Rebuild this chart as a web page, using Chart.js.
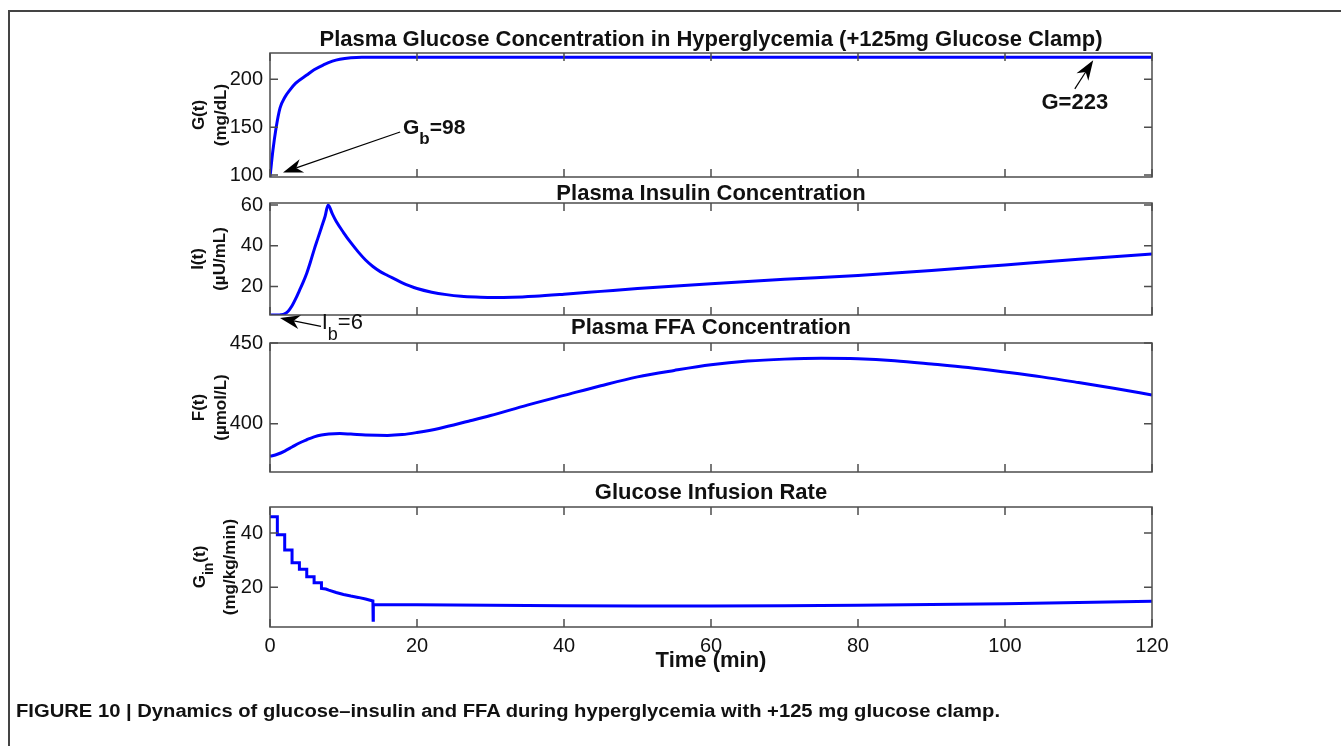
<!DOCTYPE html>
<html>
<head>
<meta charset="utf-8">
<title>Glucose clamp dynamics</title>
<script src="https://cdn.jsdelivr.net/npm/chart.js@4.4.1/dist/chart.umd.min.js"></script>
<style>
  html, body { margin: 0; padding: 0; background: #fff; }
  #page { position: relative; width: 1341px; height: 746px; overflow: hidden; background: #fff; }
  #page canvas { position: absolute; left: 0; top: 0; }
  #frame { position: absolute; left: 8px; top: 10px; right: -10px; bottom: -10px;
           border-left: 2px solid #444; border-top: 2px solid #444; }
  #caption { position: absolute; left: 16px; top: 701px; color: #111; white-space: nowrap;
             font: bold 18px 'Liberation Sans Narrow', 'Liberation Sans', Arial, sans-serif;
             transform-origin: left center; }
</style>
</head>
<body>
<div id="page">
  <div id="frame"></div>
  <canvas id="glucose" width="1341" height="746"></canvas>
  <canvas id="insulin" width="1341" height="746"></canvas>
  <canvas id="ffa" width="1341" height="746"></canvas>
  <canvas id="infusion" width="1341" height="746"></canvas>
  <div id="caption">FIGURE 10 | Dynamics of glucose–insulin and FFA during hyperglycemia with +125 mg glucose clamp.</div>
</div>

<script>
const FONT = '"Liberation Sans", Arial, sans-serif';

// time axis (min)
const timeTicks = [0, 20, 40, 60, 80, 100, 120];

// plasma glucose G(t), mg/dL
const glucoseTime = [0, 0.4, 0.82, 1.36, 2, 2.72, 3.5, 5, 6, 7.26, 8.5, 9.5, 11, 12.5, 13.6, 20, 40, 60, 80, 100, 120];
const glucoseVal  = [98, 126, 149, 170, 181, 189, 196, 204.5, 210, 215, 219, 221, 222.5, 223, 223, 223, 223, 223, 223, 223, 223];
const glucoseTicks = [100, 150, 200];

// plasma insulin I(t), uU/mL
const insulinTime = [0, 1, 1.5, 2, 2.5, 3, 3.5, 4, 4.5, 5, 5.5, 6, 6.5, 7, 7.5, 7.9, 8.5, 9, 10, 11,
                     12, 13, 14, 15, 16, 17, 18, 19, 20, 22, 24, 26, 28, 30, 33, 36, 40, 45, 50, 60,
                     70, 80, 90, 100, 110, 120];
const insulinVal  = [6, 6, 6.1, 6.6, 8, 10.5, 14, 18, 22, 26.5, 32, 38, 43.5, 49, 54.5, 60, 55.5, 52, 46.5, 41.5,
                     37, 33, 29.8, 27.3, 25.4, 23.6, 21.8, 20.3, 19, 17.2, 16, 15.2, 14.8, 14.6, 14.7, 15.2, 16.2, 17.6, 19, 21.4,
                     23.5, 25.4, 27.8, 30.6, 33.4, 36];
const insulinTicks = [20, 40, 60];

// plasma FFA F(t), umol/L
const ffaTime = [0, 1, 2, 3, 4, 5, 6, 7, 8, 9.5, 11, 13, 16, 18, 20, 23, 27, 30, 35, 40,
                 45, 50, 55, 60, 65, 70, 75, 80, 85, 90, 95, 100, 105, 110, 115, 120];
const ffaVal  = [379.7, 381, 383, 385.5, 388, 390, 391.8, 393, 393.6, 393.8, 393.5, 393, 392.7, 393.2, 394.5, 397, 401.5, 405, 411.5, 417.5,
                 423.5, 429, 433, 436.5, 438.8, 440, 440.5, 440.2, 439, 437, 434.8, 432, 429, 425.5, 421.8, 417.8];
const ffaTicks = [400, 450];

// glucose infusion rate Gin(t), mg/kg/min
const infusionTime = [0, 1, 1, 2, 2, 3, 3, 4, 4, 5, 5, 6, 6, 7, 7, 7.6, 8, 9, 10, 11,
                      12, 13, 14, 14.03, 14.06, 20, 30, 40, 50, 60, 70, 80, 90, 100, 110, 120];
const infusionVal  = [46, 46, 39.4, 39.4, 33.8, 33.8, 29.1, 29.1, 26.7, 26.7, 23.9, 23.9, 21.7, 21.7, 19.6, 19.4, 19.0, 18.1, 17.4, 16.8,
                      16.3, 15.7, 15.0, 7.9, 13.7, 13.6, 13.4, 13.2, 13.1, 13.1, 13.2, 13.4, 13.7, 14.0, 14.4, 14.9];
const infusionTicks = [20, 40];

// draws text made of pieces, some of them subscripts
function drawRich(ctx, parts, x, y, size, weight, align) {
  const subSize = Math.round(size * 0.8);
  const fontFor = p => `${weight} ${p.sub ? subSize : size}px ${FONT}`;
  let total = 0;
  parts.forEach(p => { ctx.font = fontFor(p); total += ctx.measureText(p.text).width; });
  let cx = align === 'center' ? x - total / 2 : x;
  ctx.textAlign = 'left';
  ctx.textBaseline = 'middle';
  parts.forEach(p => {
    ctx.font = fontFor(p);
    ctx.fillText(p.text, cx, p.sub ? y + size * 0.55 : y);
    cx += ctx.measureText(p.text).width;
  });
}

function drawArrow(ctx, x1, y1, x2, y2) {
  const ang = Math.atan2(y2 - y1, x2 - x1);
  const len = 20, half = 7;
  const c = Math.cos(ang), s = Math.sin(ang);
  const nx = x2 - c * len * 0.7, ny = y2 - s * len * 0.7;
  ctx.strokeStyle = '#000';
  ctx.lineWidth = 1.2;
  ctx.beginPath();
  ctx.moveTo(x1, y1);
  ctx.lineTo(nx, ny);
  ctx.stroke();
  const bx = x2 - c * len, by = y2 - s * len;
  ctx.beginPath();
  ctx.moveTo(x2, y2);
  ctx.lineTo(bx - s * half, by + c * half);
  ctx.lineTo(nx, ny);
  ctx.lineTo(bx + s * half, by - c * half);
  ctx.closePath();
  ctx.fillStyle = '#000';
  ctx.fill();
}

// box, inside ticks, panel title and annotations
function decorPlugin(cfg) {
  return {
    id: 'decor',
    afterDraw(chart) {
      const { ctx, chartArea: a, scales } = chart;
      const xs = scales.x, ys = scales.y;
      ctx.save();
      ctx.strokeStyle = '#4d4d4d';
      ctx.lineWidth = 1.5;
      ctx.strokeRect(a.left, a.top, a.right - a.left, a.bottom - a.top);
      ctx.beginPath();
      timeTicks.forEach(v => {
        const px = xs.getPixelForValue(v);
        ctx.moveTo(px, a.bottom); ctx.lineTo(px, a.bottom - 8);
        ctx.moveTo(px, a.top); ctx.lineTo(px, a.top + 8);
      });
      cfg.yTicks.forEach(v => {
        const py = ys.getPixelForValue(v);
        ctx.moveTo(a.left, py); ctx.lineTo(a.left + 8, py);
        ctx.moveTo(a.right, py); ctx.lineTo(a.right - 8, py);
      });
      ctx.stroke();

      ctx.fillStyle = '#111';
      ctx.font = `bold 22px ${FONT}`;
      ctx.textAlign = 'center';
      ctx.textBaseline = 'middle';
      ctx.fillText(cfg.title, (a.left + a.right) / 2, a.top - cfg.titleGap);

      // rotated axis title with a subscript (Chart.js titles have no subscripts)
      if (cfg.richTitle) {
        const midY = (a.top + a.bottom) / 2;
        cfg.richTitle.forEach(line => {
          ctx.save();
          ctx.translate(line.x, midY);
          ctx.rotate(-Math.PI / 2);
          ctx.fillStyle = '#111';
          drawRich(ctx, line.parts, 0, 0, 17, 'bold', 'center');
          ctx.restore();
        });
      }

      (cfg.notes || []).forEach(n => {
        if (n.arrow) {
          drawArrow(ctx, xs.getPixelForValue(n.arrow[0]), ys.getPixelForValue(n.arrow[1]),
                    xs.getPixelForValue(n.arrow[2]), ys.getPixelForValue(n.arrow[3]));
        } else {
          ctx.fillStyle = '#111';
          drawRich(ctx, n.parts, xs.getPixelForValue(n.at[0]), ys.getPixelForValue(n.at[1]),
                   n.size, n.weight, n.align);
        }
      });
      ctx.restore();
    }
  };
}

function yScale(cfg) {
  return {
    min: cfg.min,
    max: cfg.max,
    afterBuildTicks: s => { s.ticks = cfg.yTicks.map(v => ({ value: v })); },
    afterFit: s => { s.width = 85; },
    grid: { display: false, drawTicks: false },
    border: { display: false },
    ticks: { color: '#111', padding: 7, font: { family: FONT, size: 20 } },
    title: {
      display: !!cfg.yTitle,
      text: cfg.yTitle || '',
      color: '#111',
      padding: { top: cfg.yTitlePad || 0, bottom: 0 },
      font: { family: FONT, size: 17, weight: 'bold', lineHeight: 1.25 }
    }
  };
}

function xScale(showAxis) {
  if (!showAxis) return { type: 'linear', min: 0, max: 120, display: false };
  return {
    type: 'linear',
    min: 0,
    max: 120,
    afterBuildTicks: s => { s.ticks = timeTicks.map(v => ({ value: v })); },
    afterFit: s => { s.height = 50; },
    grid: { display: false, drawTicks: false },
    border: { display: false },
    ticks: { color: '#111', padding: 7, maxRotation: 0, autoSkip: false, font: { family: FONT, size: 20 } },
    title: {
      display: true,
      text: 'Time (min)',
      color: '#111',
      padding: { top: 0, bottom: 3 },
      font: { family: FONT, size: 22, weight: 'bold' }
    }
  };
}

function makePanel(id, cfg) {
  const points = cfg.t.map((t, i) => ({ x: t, y: cfg.v[i] }));
  new Chart(document.getElementById(id), {
    type: 'line',
    data: {
      datasets: [{
        data: points,
        borderColor: '#0000ff',
        borderWidth: 3,
        pointRadius: 0,
        fill: false,
        tension: 0,
        cubicInterpolationMode: cfg.smooth ? 'monotone' : 'default'
      }]
    },
    options: {
      responsive: false,
      animation: false,
      devicePixelRatio: 1,
      events: [],
      layout: { padding: { left: 185, right: 189, top: cfg.top, bottom: cfg.bottom } },
      plugins: { legend: { display: false }, tooltip: { enabled: false } },
      scales: { x: xScale(cfg.showX), y: yScale(cfg) }
    },
    plugins: [decorPlugin(cfg)]
  });
}

makePanel('glucose', {
  t: glucoseTime, v: glucoseVal, smooth: true,
  min: 98, max: 227.5, yTicks: glucoseTicks,
  yTitle: ['G(t)', '(mg/dL)'], yTitlePad: 4,
  top: 53, bottom: 746 - 177, titleGap: 13.5,
  title: 'Plasma Glucose Concentration in Hyperglycemia (+125mg Glucose Clamp)',
  notes: [
    { arrow: [17.7, 145, 1.77, 102.7] },
    { at: [18.1, 149.2], size: 21, weight: 'bold', align: 'left',
      parts: [{ text: 'G' }, { text: 'b', sub: true }, { text: '=98' }] },
    { arrow: [109.5, 190, 112, 220] },
    { at: [109.5, 175.3], size: 22, weight: 'bold', align: 'center', parts: [{ text: 'G=223' }] }
  ]
});

makePanel('insulin', {
  t: insulinTime, v: insulinVal, smooth: true,
  min: 6, max: 61, yTicks: insulinTicks,
  yTitle: ['I(t)', '(\u00b5U/mL)'], yTitlePad: 3,
  top: 203, bottom: 746 - 315, titleGap: 9,
  title: 'Plasma Insulin Concentration',
  notes: [
    { arrow: [6.94, 0.4, 1.36, 4.5] },
    { at: [7.03, 2.1], size: 22, weight: 'normal', align: 'left',
      parts: [{ text: 'I' }, { text: 'b', sub: true }, { text: '=6' }] }
  ]
});

makePanel('ffa', {
  t: ffaTime, v: ffaVal, smooth: true,
  min: 370, max: 450, yTicks: ffaTicks,
  yTitle: ['F(t)', '(\u00b5mol/L)'], yTitlePad: 4,
  top: 343, bottom: 746 - 472, titleGap: 15,
  title: 'Plasma FFA Concentration'
});

makePanel('infusion', {
  t: infusionTime, v: infusionVal, smooth: false, showX: true,
  min: 5.4, max: 49.6, yTicks: infusionTicks,
  richTitle: [
    { x: 200, parts: [{ text: 'G' }, { text: 'in', sub: true }, { text: '(t)' }] },
    { x: 230, parts: [{ text: '(mg/kg/min)' }] }
  ],
  top: 507, bottom: 746 - 677, titleGap: 14.5,
  title: 'Glucose Infusion Rate'
});

// stretch the caption to the width it has in the figure
const cap = document.getElementById('caption');
const capWidth = cap.getBoundingClientRect().width;
cap.style.transform = `scaleX(${984 / capWidth})`;
</script>
</body>
</html>
